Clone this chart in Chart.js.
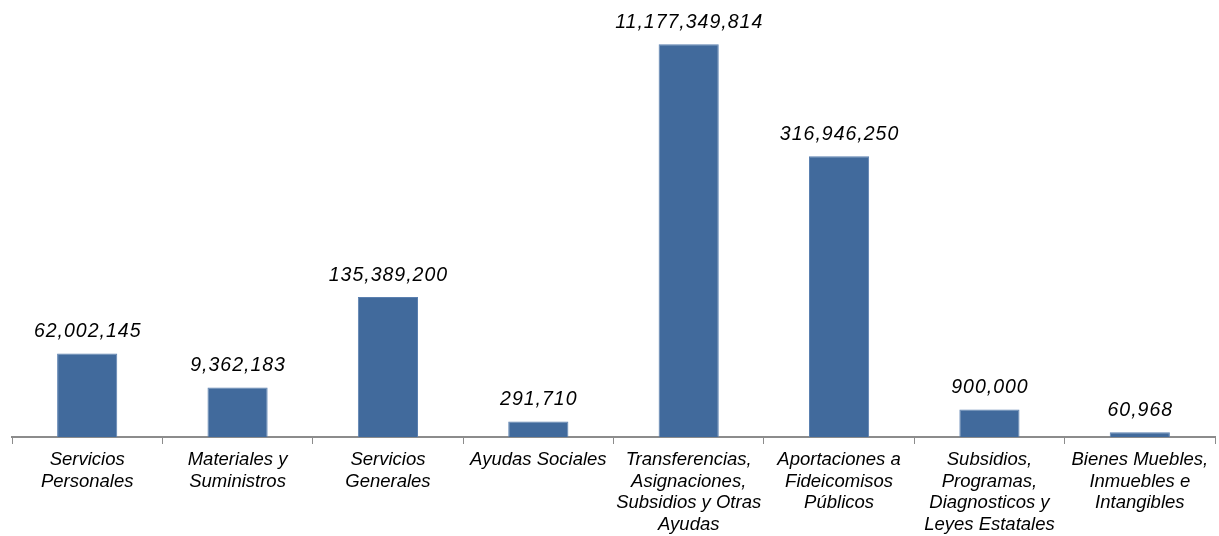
<!DOCTYPE html>
<html>
<head>
<meta charset="utf-8">
<script src="https://cdn.jsdelivr.net/npm/chart.js@4"></script>
<style>
  body { margin: 0; background: #fff; }
  #wrap { width: 1219px; height: 536px; }
</style>
</head>
<body>
<div id="wrap"><canvas id="chart" width="1219" height="536"></canvas></div>
<script>
// categories (multi-line labels as drawn under the axis)
const categories = [
  ["Servicios", "Personales"],
  ["Materiales y", "Suministros"],
  ["Servicios", "Generales"],
  ["Ayudas Sociales"],
  ["Transferencias,", "Asignaciones,", "Subsidios y Otras", "Ayudas"],
  ["Aportaciones a", "Fideicomisos", "Públicos"],
  ["Subsidios,", "Programas,", "Diagnosticos y", "Leyes Estatales"],
  ["Bienes Muebles,", "Inmuebles e", "Intangibles"]
];
// amounts printed above each bar
const amounts = [62002145, 9362183, 135389200, 291710, 11177349814, 316946250, 900000, 60968];
// bar heights as drawn in the original (not proportional to amounts), in display units
const barHeights = [83.4, 49.4, 140, 15.4, 392.7, 280.7, 27.4, 4.7];

const fmt = (n) => n.toLocaleString("en-US");

// draws the amount above every bar
const valueLabels = {
  id: "valueLabels",
  afterDatasetsDraw(chart) {
    const ctx = chart.ctx;
    const meta = chart.getDatasetMeta(0);
    ctx.save();
    ctx.font = "italic 19.5px 'Liberation Sans', Arial, sans-serif";
    ctx.letterSpacing = "1px";
    ctx.fillStyle = "#000";
    ctx.textAlign = "center";
    ctx.textBaseline = "alphabetic";
    meta.data.forEach((bar, i) => {
      ctx.fillText(fmt(amounts[i]), bar.x + 0.5, bar.y - 16.5);
    });
    ctx.restore();
  }
};

new Chart(document.getElementById("chart"), {
  type: "bar",
  data: {
    labels: categories,
    datasets: [{
      data: barHeights,
      backgroundColor: "#416a9c",
      borderColor: "#5b80b0",
      borderWidth: 1,
      categoryPercentage: 1,
      barPercentage: 0.4
    }]
  },
  options: {
    responsive: false,
    animation: false,
    layout: { padding: { left: 12, right: 4, top: 0, bottom: 0 } },
    plugins: { legend: { display: false }, tooltip: { enabled: false } },
    scales: {
      y: {
        display: false,
        min: 0,
        max: 437
      },
      x: {
        afterFit(scale) { scale.height = 99; },
        border: { display: true, color: "#8c8c8c", width: 2 },
        grid: {
          offset: true,
          drawOnChartArea: false,
          drawTicks: true,
          tickLength: 7,
          color: "#8c8c8c",
          lineWidth: 1
        },
        ticks: {
          autoSkip: false,
          maxRotation: 0,
          minRotation: 0,
          padding: 5,
          color: "#000",
          font: { family: "'Liberation Sans', Arial, sans-serif", size: 18.5, style: "italic", lineHeight: 1.17 }
        }
      }
    }
  },
  plugins: [valueLabels]
});
</script>
</body>
</html>
